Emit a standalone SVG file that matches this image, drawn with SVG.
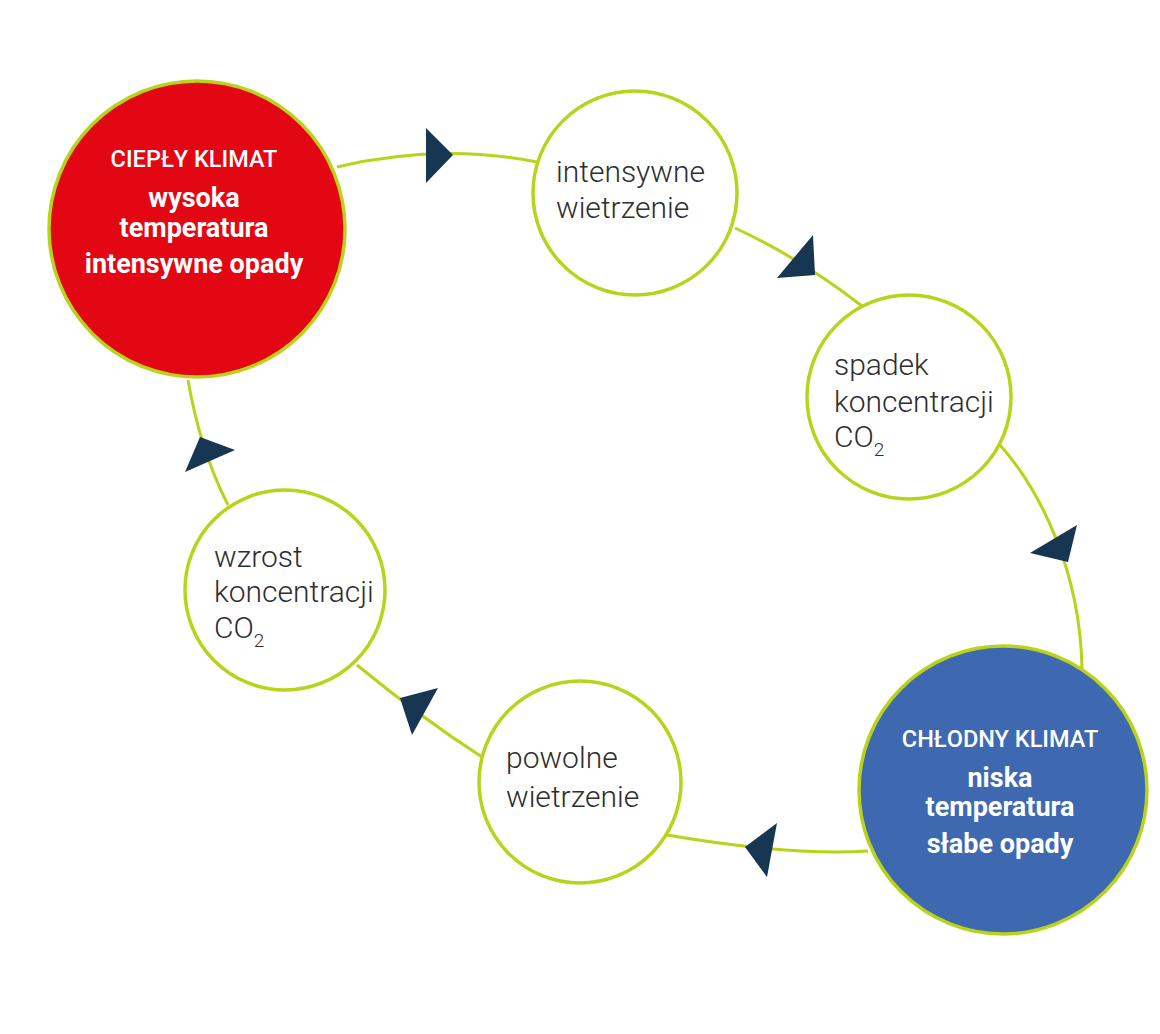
<svg xmlns="http://www.w3.org/2000/svg" width="1160" height="1034" viewBox="0 0 1160 1034">
<style>
.bg{fill:#ffffff}
.node{stroke:#b9d21a;stroke-width:3.5}
.wht{fill:#ffffff}
.red{fill:#e30613}
.blu{fill:#3e69b1}
.conn{fill:none;stroke:#b9d21a;stroke-width:3}
.arr{fill:#163652}
.lbl{font-family:Roboto,"Liberation Sans",sans-serif;font-weight:300;font-size:30px;fill:#2e2e2e}
.hd{font-family:Roboto,"Liberation Sans",sans-serif;font-weight:500;font-size:23.5px;fill:#ffffff;text-anchor:middle}
.bd{font-family:Roboto,"Liberation Sans",sans-serif;font-weight:700;font-size:27px;fill:#ffffff;text-anchor:middle}
.sub{font-size:19px}
</style>
<rect class="bg" x="0" y="0" width="1160" height="1034"/>
<g id="connectors">
<path class="conn" d="M337,167 Q440,143 537,162"/>
<path class="conn" d="M735,228 Q800,258 862,306"/>
<path class="conn" d="M1000,445 C1040,490 1080,570 1082,668"/>
<path class="conn" d="M868,851 Q790,856 667,835"/>
<path class="conn" d="M482,757 Q420,717 357,665"/>
<path class="conn" d="M228,505 Q200,450 188,380"/>
<polygon class="arr" points="426,128 426,183 453,155"/>
<polygon class="arr" points="813,235 777,278 815,275"/>
<polygon class="arr" points="1077,525 1030,553 1068,562"/>
<polygon class="arr" points="777,823 767,877 745,847"/>
<polygon class="arr" points="438,688 400,698 412,735"/>
<polygon class="arr" points="200,437 235,450 185,472"/>
</g>
<g id="cieply">
<circle class="node red" cx="197" cy="229" r="148"/>
<text class="hd" x="194" y="167">CIEPŁY KLIMAT</text>
<text class="bd" x="194" y="207">wysoka</text>
<text class="bd" x="194" y="237">temperatura</text>
<text class="bd" x="194" y="273">intensywne opady</text>
</g>
<g id="intensywne">
<circle class="node wht" cx="635" cy="193" r="102"/>
<text class="lbl" x="556" y="182">intensywne</text>
<text class="lbl" x="556" y="218">wietrzenie</text>
</g>
<g id="spadek">
<circle class="node wht" cx="909" cy="397" r="102"/>
<text class="lbl" x="834" y="375">spadek</text>
<text class="lbl" x="834" y="412">koncentracji</text>
<text class="lbl" x="834" y="447">CO<tspan class="sub" dy="9">2</tspan></text>
</g>
<g id="chlodny">
<circle class="node blu" cx="1003" cy="790" r="144"/>
<text class="hd" x="1000" y="747">CHŁODNY KLIMAT</text>
<text class="bd" x="1000" y="787">niska</text>
<text class="bd" x="1000" y="816">temperatura</text>
<text class="bd" x="1000" y="853">słabe opady</text>
</g>
<g id="powolne">
<circle class="node wht" cx="580" cy="782" r="101"/>
<text class="lbl" x="506" y="768">powolne</text>
<text class="lbl" x="506" y="807">wietrzenie</text>
</g>
<g id="wzrost">
<circle class="node wht" cx="285" cy="590" r="100"/>
<text class="lbl" x="214" y="567">wzrost</text>
<text class="lbl" x="214" y="602">koncentracji</text>
<text class="lbl" x="214" y="638">CO<tspan class="sub" dy="9">2</tspan></text>
</g>
</svg>
